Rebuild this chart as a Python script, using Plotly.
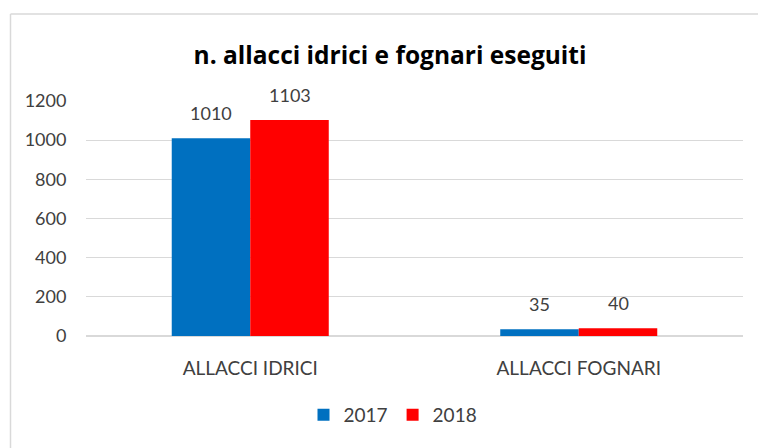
import plotly.graph_objects as go

categories = ["ALLACCI IDRICI", "ALLACCI FOGNARI"]
series_names = ["2017", "2018"]
values_2017 = [1010, 35]
values_2018 = [1103, 40]
colors = ["#0070C0", "#FF0000"]
y_ticks = [0, 200, 400, 600, 800, 1000, 1200]
title_text = "n. allacci idrici e fognari eseguiti"

FONT = "Lato"
TEXT_COLOR = "#404040"
W, H = 758, 448
L, R, T, B = 86, 15, 101, 112
pw, ph = W - L - R, H - T - B

def px_x(px):
    return (px - L) / pw

def px_y(py):
    return (H - B - py) / ph

fig = go.Figure()
for name, vals, col in zip(series_names, [values_2017, values_2018], colors):
    fig.add_trace(go.Bar(x=categories, y=vals, name=name, marker=dict(color=col, line=dict(width=0))))

# value labels above bars
offs = [-39.5, 39.5]
for vals, dx in zip([values_2017, values_2018], offs):
    for c, v in zip(categories, vals):
        fig.add_annotation(x=c, y=v, text=str(v), showarrow=False, xshift=dx, yshift=25,
                           font=dict(family=FONT, size=18, color=TEXT_COLOR))

# chart border (top and left)
fig.add_shape(type="line", xref="paper", yref="paper", x0=px_x(10.5), x1=px_x(760), y0=px_y(14), y1=px_y(14),
              line=dict(color="#D9D9D9", width=1.5))
fig.add_shape(type="line", xref="paper", yref="paper", x0=px_x(10.5), x1=px_x(10.5), y0=px_y(14), y1=px_y(450),
              line=dict(color="#D9D9D9", width=1.5))

fig.update_layout(
    width=W, height=H,
    margin=dict(l=L, r=R, t=T, b=B),
    paper_bgcolor="white", plot_bgcolor="white",
    barmode="group", bargap=0.522, bargroupgap=0,
    title=dict(text="<b>" + title_text + "</b>", x=390 / W, xanchor="center", y=1 - 55 / H, yanchor="middle",
               yref="container", font=dict(family="Open Sans", size=24.5, color="#000000")),
    legend=dict(orientation="h", x=px_x(393), xanchor="center", y=px_y(415), yanchor="middle",
                font=dict(family=FONT, size=19, color=TEXT_COLOR), itemwidth=30, traceorder="normal"),
    font=dict(family=FONT, color=TEXT_COLOR),
)
fig.update_yaxes(range=[0, 1200], tickvals=y_ticks, showgrid=True, gridcolor="#D9D9D9", gridwidth=1,
                 zeroline=True, zerolinecolor="#D9D9D9", showline=False,
                 ticks="outside", ticklen=15, tickcolor="rgba(0,0,0,0)",
                 tickfont=dict(family=FONT, size=18, color=TEXT_COLOR))
fig.update_xaxes(showline=False, ticks="outside", ticklen=15, tickcolor="rgba(0,0,0,0)",
                 tickfont=dict(family=FONT, size=19, color=TEXT_COLOR))

fig.write_html("out.html", config={"displayModeBar": False},
               post_script="document.body.style.margin='0px';")
